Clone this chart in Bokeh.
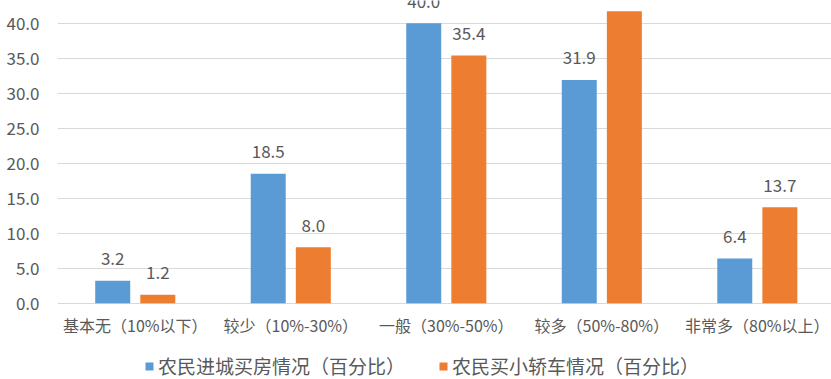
from bokeh.plotting import figure
from bokeh.models import ColumnDataSource, Range1d, FixedTicker, Legend, LegendItem, NumeralTickFormatter
from bokeh.core.properties import value
from bokeh.embed import file_html
from bokeh.resources import INLINE

categories = ["基本无（10%以下）", "较少（10%-30%）", "一般（30%-50%）", "较多（50%-80%）", "非常多（80%以上）"]
house = [3.2, 18.5, 40.0, 31.9, 6.4]
car = [1.2, 8.0, 35.4, 41.7, 13.7]
series_names = ["农民进城买房情况（百分比）", "农民买小轿车情况（百分比）"]
y_ticks = [0, 5, 10, 15, 20, 25, 30, 35, 40]

BLUE = "#5b9bd5"
ORANGE = "#ed7d31"
TXT = "#595959"
FONT = "Noto Sans CJK SC"

idx = list(range(len(categories)))
off = 0.145
bw = 0.225

src_h = ColumnDataSource(dict(x=[i - off for i in idx], top=house, lab=["%.1f" % v for v in house]))
src_c = ColumnDataSource(dict(x=[i + off for i in idx], top=car, lab=["%.1f" % v for v in car]))
src_cat = ColumnDataSource(dict(x=idx, y=[0] * len(idx), lab=categories))

p = figure(width=831, height=379, output_backend="svg", toolbar_location=None,
           x_range=Range1d(-0.5, 4.477), y_range=Range1d(-10.9, 43.24), x_axis_type=None,
           min_border_left=57, min_border_right=0, min_border_top=0, min_border_bottom=0)
p.outline_line_color = None
p.background_fill_color = "white"
p.border_fill_color = "white"

r1 = p.vbar(x="x", top="top", bottom=0, width=bw, source=src_h, color=BLUE, line_color=None)
r2 = p.vbar(x="x", top="top", bottom=0, width=bw, source=src_c, color=ORANGE, line_color=None)

for s in (src_h, src_c):
    p.text(x="x", y="top", text="lab", source=s, text_align="center", text_baseline="middle",
           y_offset=-22, text_font=value(FONT), text_font_size="17px", text_color=TXT)

# category tick labels
p.text(x="x", y="y", text="lab", source=src_cat, text_align="center", text_baseline="middle",
       y_offset=22, text_font=value(FONT), text_font_size="16px", text_color=TXT)

p.yaxis.ticker = FixedTicker(ticks=y_ticks)
p.yaxis.formatter = NumeralTickFormatter(format="0.0")
p.yaxis.axis_line_color = None
p.yaxis.major_tick_line_color = None
p.yaxis.minor_tick_line_color = None
p.yaxis.major_label_text_font = FONT
p.yaxis.major_label_text_font_size = "17px"
p.yaxis.major_label_text_color = TXT
p.yaxis.major_label_standoff = 12

p.xgrid.grid_line_color = None
p.ygrid.ticker = FixedTicker(ticks=y_ticks)
p.ygrid.grid_line_color = "#d9d9d9"
p.ygrid.grid_line_width = 1

legend = Legend(items=[LegendItem(label=series_names[0], renderers=[r1]),
                       LegendItem(label=series_names[1], renderers=[r2])],
                orientation="horizontal", location=(87, 0),
                glyph_width=10, glyph_height=10, label_standoff=4, spacing=33,
                padding=0, margin=0, border_line_color=None, background_fill_alpha=0,
                label_text_font=FONT, label_text_font_size="19px", label_text_color=TXT,
                label_height=26)
p.add_layout(legend, "center")

open("out.html", "w").write(file_html(p, INLINE))
